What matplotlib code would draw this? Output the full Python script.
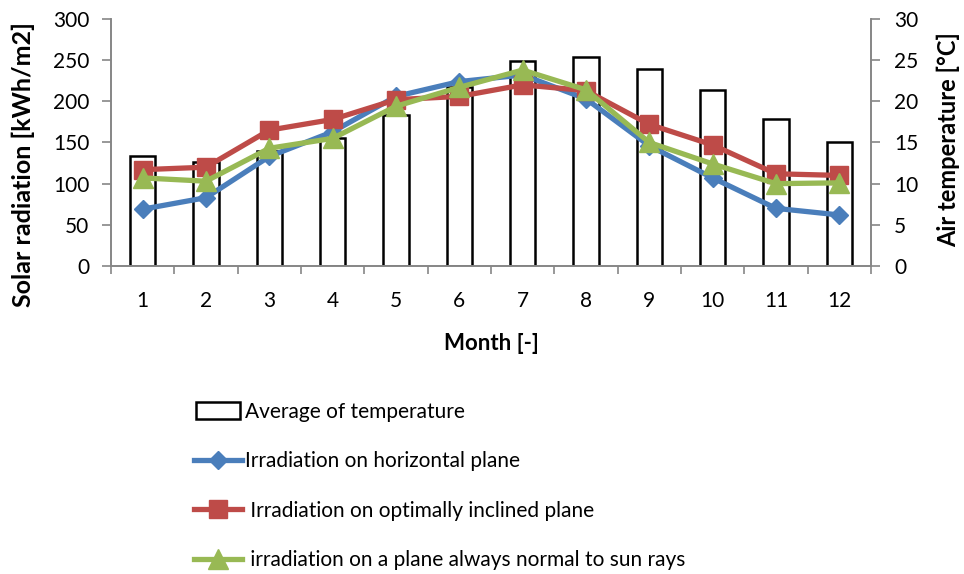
import numpy as np
import matplotlib.pyplot as plt
from matplotlib.patches import Rectangle
from matplotlib.legend_handler import HandlerPatch

plt.rcParams['font.family'] = ['Lato', 'DejaVu Sans']

months = [1, 2, 3, 4, 5, 6, 7, 8, 9, 10, 11, 12]
temp_avg = [13.4, 12.6, 14.0, 15.5, 18.3, 21.8, 24.9, 25.4, 23.9, 21.4, 17.8, 15.0]
irr_horizontal = [69, 83, 133, 163, 206, 224, 232, 203, 146, 107, 70, 62]
irr_inclined = [117, 120, 165, 178, 202, 206, 220, 213, 172, 147, 112, 110]
irr_normal = [107, 103, 143, 155, 194, 217, 238, 214, 150, 124, 100, 101]
labels = ['Average of temperature',
          'Irradiation on horizontal plane',
          ' Irradiation on optimally inclined plane',
          ' irradiation on a plane always normal to sun rays']

grey = '#868686'
fs = 15


def box_handle(legend, orig_handle, xdescent, ydescent, width, height, fontsize):
    # slightly narrower box for the bar entry
    return Rectangle((-xdescent + 1, -ydescent - 1), width * 0.92, height + 2)


fig = plt.figure(figsize=(9.64, 5.74), dpi=100)
ax = fig.add_axes([0.1151, 0.5366, 0.7884, 0.4303])
ax2 = ax.twinx()

# temperature bars sit behind the radiation lines
ax.set_zorder(ax2.get_zorder() + 1)
ax.patch.set_visible(False)

x = np.arange(len(months))
bars = ax2.bar(x, temp_avg, width=0.4, color='white', edgecolor='black',
               linewidth=1.8)

l1, = ax.plot(x, irr_horizontal, color='#4A7EBB', lw=3.8, marker='D',
              markersize=9.5)
l2, = ax.plot(x, irr_inclined, color='#BE4B48', lw=3.8, marker='s',
              markersize=13)
l3, = ax.plot(x, irr_normal, color='#98B954', lw=3.8, marker='^',
              markersize=14)

ax.set_xlim(-0.5, 11.5)
ax.set_ylim(0, 300)
ax2.set_ylim(0, 30)
ax.set_yticks(range(0, 301, 50))
ax2.set_yticks(range(0, 31, 5))

ax.set_xticks(x)
ax.set_xticklabels([str(m) for m in months])
ax.set_xticks(np.arange(-0.5, 12, 1), minor=True)
ax.tick_params(axis='x', which='major', length=0, pad=18, labelsize=fs)
ax.tick_params(axis='x', which='minor', length=6, color=grey, width=1.2)
ax.tick_params(axis='y', length=6.5, color=grey, width=1.2, labelsize=fs, pad=9)
ax2.tick_params(axis='y', length=6.5, color=grey, width=1.2, labelsize=fs, pad=10)

for a in (ax, ax2):
    a.spines['top'].set_visible(False)
    for s in ('left', 'right', 'bottom'):
        a.spines[s].set_color(grey)
        a.spines[s].set_linewidth(1.2)

ax.set_xlabel('Month [-]', fontsize=16, fontweight='bold', labelpad=16)
ax.set_ylabel('Solar radiation [kWh/m2]', fontsize=18, fontweight='bold')
ax2.set_ylabel('Air temperature [°C]', fontsize=17, fontweight='bold')
ax.yaxis.set_label_coords(-0.1, 0.41)
ax2.yaxis.set_label_coords(1.087, 0.51)

fig.legend([bars[0], l1, l2, l3], labels, loc='upper left',
           bbox_to_anchor=(0.193, 0.315), frameon=False, fontsize=15,
           handlelength=2.3, handletextpad=0.12, labelspacing=1.42,
           borderaxespad=0,
           handler_map={Rectangle: HandlerPatch(patch_func=box_handle)})

fig.savefig('out.png', dpi=100)
